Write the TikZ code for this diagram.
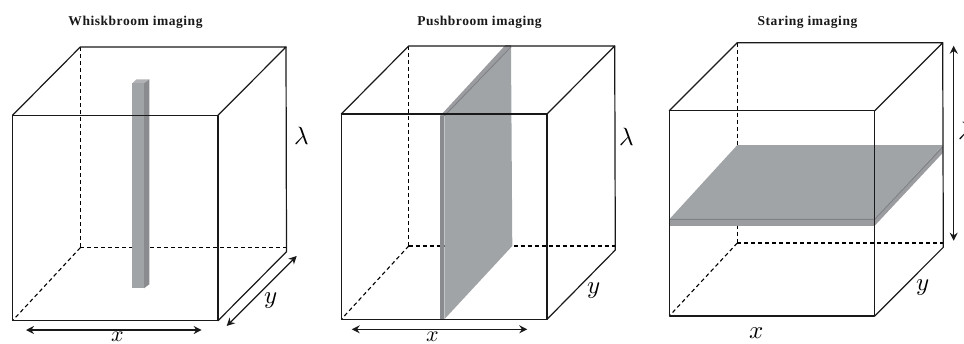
\documentclass[tikz,border=0pt]{standalone}
\usepackage{fontspec}
\setmainfont{Liberation Serif}
\usepackage{unicode-math}
\setmathfont{Latin Modern Math}
\usetikzlibrary{arrows.meta}
\definecolor{sheet}{HTML}{A1A4A7}
\definecolor{sheetside}{HTML}{898B8F}
\definecolor{sheetstrip}{HTML}{9A9CA0}
\definecolor{sheetline}{HTML}{7F8186}
\definecolor{sheettop}{HTML}{B0B2B5}
\tikzset{
  edge/.style={black!90,line width=1.2pt,line cap=round,line join=round},
  hidden/.style={black,line width=1.1pt,dash pattern=on 4pt off 3pt},
  dimarrow/.style={black!90,line width=1.2pt,{Stealth[length=8pt,width=8pt]}-{Stealth[length=8pt,width=8pt]}},
  titletext/.style={font=\fontsize{13.5}{15}\selectfont\addfontfeatures{LetterSpace=4}\bfseries,text=black!90,inner sep=0pt},
  varlabel/.style={font=\fontsize{25}{25}\selectfont,inner sep=0pt,anchor=base},
  lowlabel/.style={font=\fontsize{22}{22}\selectfont,inner sep=0pt,anchor=base},
  sheetface/.style={fill=sheet,draw=none},
  sheetcap/.style={fill=sheettop,draw=none},
  sheetstrip/.style={fill=sheetstrip,draw=none},
  sheetrule/.style={draw=sheetline,line width=0.9pt}
}
% #1 prefix, #2 left, #3 right, #4 top, #5 bottom of the front face; #6 left, #7 right, #8 top, #9 bottom of the back face
\newcommand{\cubepoints}[9]{%
  \coordinate (#1fa) at (#2,#4);
  \coordinate (#1fb) at (#3,#4);
  \coordinate (#1fc) at (#3,#5);
  \coordinate (#1fd) at (#2,#5);
  \coordinate (#1ba) at (#6,#8);
  \coordinate (#1bb) at (#7,#8);
  \coordinate (#1bd) at (#6,#9);
  \coordinate (#1be) at (#7,#9);
}
\newcommand{\cubehidden}[1]{%
  \draw[hidden] (#1ba) -- (#1bd);
  \draw[hidden] (#1bd) -- (#1be);
  \draw[hidden] (#1bd) -- (#1fd);
}
\newcommand{\cubesolid}[2]{%
  \draw[edge] (#1fa) -- (#1fb) -- (#1fc) -- (#1fd) -- cycle;
  \draw[edge] (#1fa) -- (#1ba) -- (#1bb) -- (#1fb);
  \draw[edge] (#1bb) -- (#2) -- (#1fc);
}
\begin{document}
\begin{tikzpicture}[x=1pt,y=-1pt]
\useasboundingbox (0,0) rectangle (964,343);

\node[titletext] (t1) at (135.5,22.5) {Whiskbroom imaging};
\node[titletext] (t2) at (479.5,22.5) {Pushbroom imaging};
\node[titletext] (t3) at (807.5,22.5) {Staring imaging};

% ---- Whiskbroom
\cubepoints{a}{12.5}{218}{115.3}{320.7}{80.3}{286}{47}{247.7}
\coordinate (acorner) at (286.5,251.7);
\cubehidden{a}
\fill[sheetcap] (132.3,83.3) -- (136.5,79.3) -- (149.3,79.3) -- (144,83.3) -- cycle;
\fill[sheetface] (132.3,83.3) rectangle (144,288.3);
\fill[sheetside] (144,83.3) -- (149.3,79.3) -- (149.3,284.3) -- (144,288.3) -- cycle;
\cubesolid{a}{acorner}
\coordinate (ax1) at (26,330);
\coordinate (ax2) at (201.7,330);
\coordinate (ay1) at (226.7,326);
\coordinate (ay2) at (296.7,256);
\draw[dimarrow] (ax1) -- (ax2);
\draw[dimarrow] (ay1) -- (ay2);
\node[lowlabel] (ax) at (118,341.5) {$x$};
\node[varlabel] (ay) at (270.5,303) {$y$};
\node[varlabel] (al) at (302,144) {$\lambda$};

% ---- Pushbroom
\cubepoints{b}{341.3}{547}{114}{319.3}{408.7}{614.7}{46}{246}
\coordinate (bcorner) at (615.3,250);
\cubehidden{b}
\fill[sheetface] (444.3,116) -- (511,48) -- (512.3,246) -- (444.3,319.3) -- cycle;
\fill[sheetstrip] (440,116) -- (505.5,45) -- (511,45) -- (511,48) -- (444.3,116) -- cycle;
\fill[sheetside] (440,116) rectangle (444.3,319.3);
\draw[sheetrule] (444.3,116) -- (511,47);
\cubesolid{b}{bcorner}
\coordinate (bx1) at (351.7,329.3);
\coordinate (bx2) at (527.3,329.3);
\draw[dimarrow] (bx1) -- (bx2);
\node[lowlabel] (bx) at (433,341.5) {$x$};
\node[varlabel] (by) at (594.3,293) {$y$};
\node[varlabel] (bl) at (627,145) {$\lambda$};

% ---- Staring
\cubepoints{c}{669.3}{874.7}{110.7}{316}{737.3}{942.7}{42.7}{243}
\coordinate (ccorner) at (943.3,247.3);
\cubehidden{c}
\fill[sheetface] (669.3,219.3) -- (737.3,145) -- (942.7,145) -- (874.7,219.3) -- cycle;
\fill[sheetstrip] (669.3,219.3) rectangle (874.7,225.7);
\fill[sheetstrip] (874.7,219.3) -- (942.7,145) -- (942.7,153) -- (874.7,225.7) -- cycle;
\draw[sheetrule] (669.3,219.3) -- (874.7,219.3) -- (942.7,147);
\cubesolid{c}{ccorner}
\coordinate (cl1) at (953.7,45.7);
\coordinate (cl2) at (953.7,240.7);
\draw[dimarrow] (cl1) -- (cl2);
\node[varlabel] (cx) at (756.7,338) {$x$};
\node[varlabel] (cy) at (923.3,290) {$y$};
\node[varlabel] (cl) at (966,139) {$\lambda$};
\end{tikzpicture}
\end{document}
